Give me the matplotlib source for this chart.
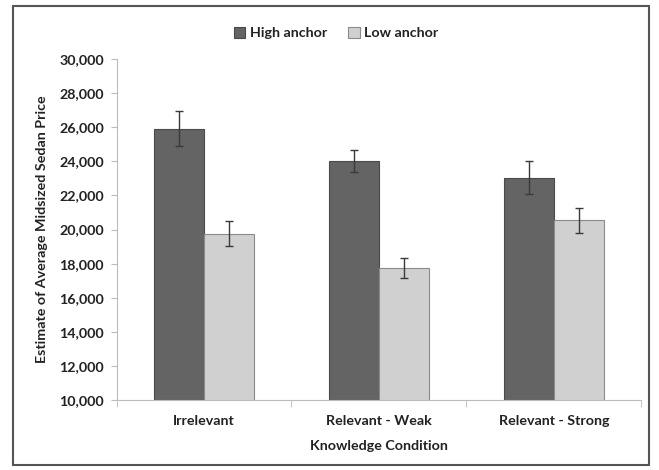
import matplotlib
matplotlib.use("Agg")
import matplotlib.pyplot as plt
from matplotlib.patches import Rectangle
import numpy as np

categories = ["Irrelevant", "Relevant - Weak", "Relevant - Strong"]
high_anchor = [25900, 24030, 23050]
high_err = [1030, 640, 950]
low_anchor = [19760, 17760, 20550]
low_err = [730, 590, 730]
yticks = [10000, 12000, 14000, 16000, 18000, 20000, 22000, 24000, 26000, 28000, 30000]

plt.rcParams['font.family'] = ['Lato', 'DejaVu Sans']
FS = 10.3

fig = plt.figure(figsize=(6.59, 4.70), dpi=100)
ax = fig.add_axes([0.1768, 0.1489, 0.7966, 0.7255])

x = np.arange(len(categories))
w = 0.2857
ekw = dict(ecolor='#3a3a3a', elinewidth=1.0, capsize=3, capthick=1.0)
ax.bar(x - w/2, high_anchor, w, yerr=high_err, color='#646464', edgecolor='#4a4a4a',
       linewidth=0.8, label='High anchor', error_kw=ekw, zorder=2)
ax.bar(x + w/2, low_anchor, w, yerr=low_err, color='#d0d0d0', edgecolor='#8a8a8a',
       linewidth=0.8, label='Low anchor', error_kw=ekw, zorder=2)

ax.set_xlim(-0.5, 2.5)
ax.set_ylim(10000, 30000)
ax.set_yticks(yticks)
ax.set_yticklabels([f"{v:,}" for v in yticks], fontsize=FS, fontweight='bold', color='#222222')
ax.set_xticks(x)
ax.set_xticklabels(categories, fontsize=FS, fontweight='bold', color='#222222')
ax.set_xticks([-0.5, 0.5, 1.5, 2.5], minor=True)
ax.tick_params(axis='x', which='major', length=0, pad=11)
ax.tick_params(axis='x', which='minor', length=5, color='#bbbbbb', direction='out')
ax.tick_params(axis='y', length=4, color='#bbbbbb', direction='out', pad=5)

for s in ['top', 'right']:
    ax.spines[s].set_visible(False)
ax.spines['left'].set_color('#bbbbbb')
ax.spines['bottom'].set_color('#bbbbbb')

ax.set_xlabel("Knowledge Condition", fontsize=FS, fontweight='bold', color='#222222', labelpad=9)
ax.set_ylabel("Estimate of Average Midsized Sedan Price", fontsize=FS, fontweight='bold',
              color='#222222', labelpad=8)

leg = fig.legend(loc='center', bbox_to_anchor=(0.51, 0.93), ncol=2, frameon=False,
                 prop={'size': FS, 'weight': 'bold'}, handlelength=0.8, handleheight=0.8,
                 handletextpad=0.3, columnspacing=1.5)
for t in leg.get_texts():
    t.set_color('#222222')

fig.patches.append(Rectangle((0.02, 0.01), 0.965, 0.977, transform=fig.transFigure,
                             fill=False, edgecolor='#555555', linewidth=1.5))

fig.savefig("out.png", dpi=100)
